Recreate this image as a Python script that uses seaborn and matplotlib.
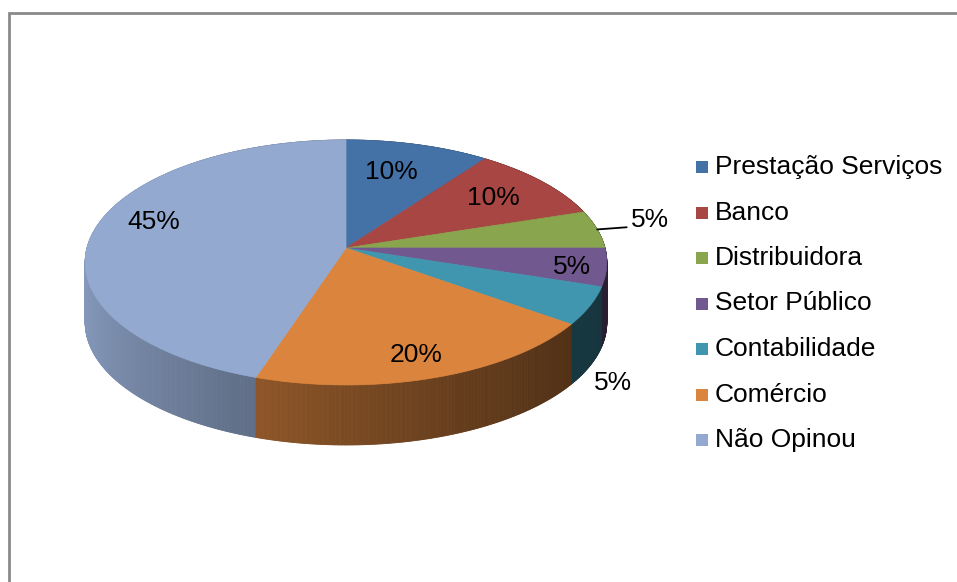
import matplotlib
matplotlib.use("Agg")
import matplotlib.pyplot as plt
from matplotlib.collections import PolyCollection
from matplotlib.patches import Polygon
import numpy as np
import seaborn as sns

# data
categories = ['Prestação Serviços', 'Banco', 'Distribuidora', 'Setor Público',
              'Contabilidade', 'Comércio', 'Não Opinou']
shares = [10, 10, 5, 5, 5, 20, 45]
slice_colors = ['#4472A7', '#A84643', '#89A54E', '#71588F', '#4096AE', '#DB843D', '#93A9CF']

# 3d pie geometry (pixels)
CX, CY = 346, 248
RX, RY = 259, 120.8
K = 0.118          # perspective
DEPTH = 60
START = 90

# label placement: radius factor, angle tweak, outside?
label_r = [0.705, 0.74, 1.12, 0.87, 1.12, 0.84, 0.79]
label_dtheta = [2.5, 0, 0, -1, -4, -1, -7]
label_outside = [False, False, True, False, True, False, False]


def proj(r, theta_deg, drop=0.0):
    t = np.radians(theta_deg)
    u = r * np.cos(t)
    v = r * np.sin(t)
    den = 1 + K * v
    return CX + RX * u / den, CY - RY * v / den + drop


def shade(x):
    t = np.clip((x - (CX - RX)) / (2 * RX), 0, 1)
    return 0.9 - 0.55 * t ** 0.7


def main():
    sns.set_theme(style="white")
    plt.rcParams['font.family'] = ['Liberation Sans', 'DejaVu Sans']
    plt.rcParams['text.color'] = 'black'
    palette = sns.color_palette(slice_colors)

    fig = plt.figure(figsize=(9.57, 5.82), dpi=100)
    ax = fig.add_axes([0, 0, 1, 1])
    ax.set_xlim(0, 957)
    ax.set_ylim(582, 0)
    ax.axis('off')

    # chart frame (cut off on the right and bottom)
    ax.plot([9, 9, 960], [600, 13, 13], color='#8a8a8a', lw=2, solid_joinstyle='miter')

    total = float(sum(shares))
    bounds = [START]
    for s in shares:
        bounds.append(bounds[-1] - 360 * s / total)

    # side walls, painted back to front
    quads, cols, depth_key = [], [], []
    for i in range(len(shares)):
        a, b = bounds[i], bounds[i + 1]
        n = max(int((a - b) * 3), 2)
        th = np.linspace(a, b, n + 1)
        base = np.array(palette[i])
        for j in range(n):
            x1, y1 = proj(1, th[j])
            x2, y2 = proj(1, th[j + 1])
            quads.append([(x1, y1), (x2, y2), (x2, y2 + DEPTH), (x1, y1 + DEPTH)])
            c = np.clip(base * shade((x1 + x2) / 2), 0, 1)
            cols.append(c)
            depth_key.append(np.sin(np.radians((th[j] + th[j + 1]) / 2)))
    order = np.argsort(depth_key)[::-1]
    quads = [quads[k] for k in order]
    cols = [cols[k] for k in order]
    ax.add_collection(PolyCollection(quads, facecolors=cols, edgecolors=cols,
                                     linewidths=0.6, zorder=1))

    # top surface
    for i in range(len(shares)):
        a, b = bounds[i], bounds[i + 1]
        th = np.linspace(a, b, 200)
        xs, ys = proj(1, th)
        pts = [(CX, CY)] + list(zip(xs, ys))
        ax.add_patch(Polygon(pts, closed=True, facecolor=palette[i],
                             edgecolor=palette[i], lw=0.5, zorder=2))

    # percentage labels
    for i, s in enumerate(shares):
        mid = (bounds[i] + bounds[i + 1]) / 2
        txt = '%d%%' % round(100 * s / total)
        lx, ly = proj(label_r[i], mid + label_dtheta[i])
        if label_outside[i] and i == 2:
            ex, ey = proj(1, mid)
            ax.plot([ex, lx], [ey, ly], color='black', lw=1.3, zorder=3)
            ax.text(lx + 4, ly - 7, txt, ha='left', va='center', fontsize=19,
                    color='black', zorder=4)
        elif label_outside[i]:
            ax.text(lx, ly + DEPTH, txt, ha='center', va='center', fontsize=19,
                    color='black', zorder=4)
        else:
            ax.text(lx, ly, txt, ha='center', va='center', fontsize=19,
                    color='black', zorder=4)

    # legend
    for i, name in enumerate(categories):
        y = 167 + i * 45.5
        ax.scatter([702], [y], marker='s', s=78, color=palette[i], linewidths=0, zorder=3)
        ax.text(715, y, name, ha='left', va='center', fontsize=19, color='black', zorder=3)

    fig.savefig('out.png', dpi=100)


if __name__ == '__main__':
    main()
